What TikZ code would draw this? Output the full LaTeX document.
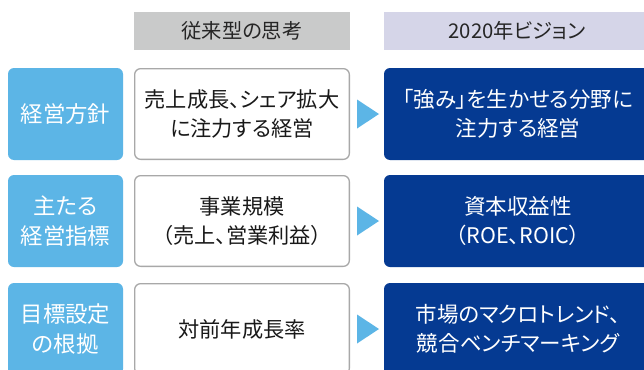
\documentclass[tikz,border=0pt]{standalone}
\usepackage{fontspec}
\newfontfamily\jp[RawFeature=+palt]{Noto Sans CJK JP}
\definecolor{lblue}{HTML}{5CB5E6}
\definecolor{navy}{HTML}{053A92}
\definecolor{hgray}{HTML}{C9CACA}
\definecolor{hlav}{HTML}{D5D5E8}
\definecolor{bgray}{HTML}{A8A8A8}
\tikzset{
  hdr/.style={minimum height=38pt, inner sep=0pt, align=center, font={\jp\fontsize{20.3}{24}\selectfont}, text=black!85},
  lbox/.style={fill=lblue, rounded corners=6pt, minimum width=115pt, minimum height=92pt, inner sep=0pt, align=center, text=white, font={\jp\fontsize{22.4}{30}\selectfont}},
  mbox/.style={draw=bgray, line width=1.3pt, fill=white, rounded corners=6pt, minimum width=214.7pt, minimum height=90.7pt, inner sep=0pt, align=center, text=black!90, font={\jp\fontsize{21.2}{28.5}\selectfont}},
  rbox/.style={fill=navy, rounded corners=6pt, minimum width=268pt, minimum height=92pt, inner sep=0pt, align=center, text=white, font={\jp\fontsize{21.5}{28.5}\selectfont}},
  arr/.style={fill=lblue},
}
\begin{document}
\begin{tikzpicture}[x=1pt,y=-1pt]
\useasboundingbox (0,0) rectangle (644,369);
\fill[white] (0,0) rectangle (644,369);
\clip (0,0) rectangle (644,369);
% headers
\node[hdr, fill=hgray, minimum width=216pt] (h1) at (242,31) {従来型の思考};
\node[hdr, fill=hlav, minimum width=266pt] (h2) at (517,31) {2020年ビジョン};
% row 1
\node[lbox] (l1) at (65.5,114) {経営方針};
\node[mbox] (m1) at (242,114) {売上成長、シェア拡大\\に注力する経営};
\node[rbox] (r1) at (518,114) {「強み」を生かせる分野に\\注力する経営};
% row 2
\node[lbox] (l2) at (65.5,221) {主たる\\経営指標};
\node[mbox] (m2) at (242,221) {事業規模\\（売上、営業利益）};
\node[rbox] (r2) at (518,221) {資本収益性\\（ROE、ROIC）};
% row 3
\node[lbox] (l3) at (65.5,329) {目標設定\\の根拠};
\node[mbox] (m3) at (242,329) {対前年成長率};
\node[rbox] (r3) at (518,329) {市場のマクロトレンド、\\競合ベンチマーキング};
% arrows
\foreach \i in {1,2,3}{
  \fill[arr] ([xshift=7pt,yshift=-14.5pt]m\i.east) -- ([xshift=29pt]m\i.east) -- ([xshift=7pt,yshift=14.5pt]m\i.east) -- cycle;
}
\end{tikzpicture}
\end{document}
